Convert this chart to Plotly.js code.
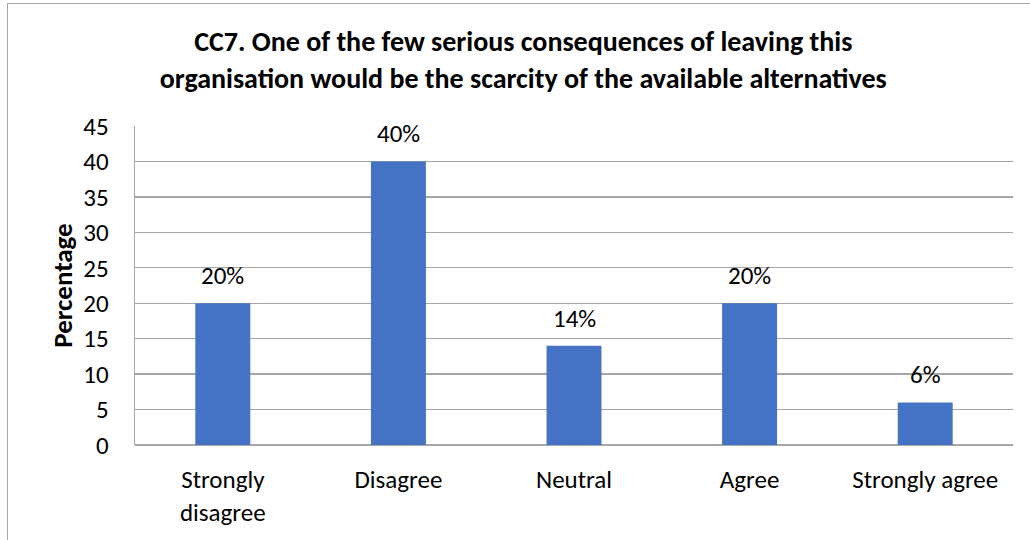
<!DOCTYPE html>
<html>
<head>
<meta charset="utf-8">
<script src="https://cdn.plot.ly/plotly-3.0.1.min.js"></script>
<style>
html,body{margin:0;padding:0;overflow:hidden;background:#fff;width:1030px;height:540px;}
#frame{position:absolute;left:7px;top:3px;width:1100px;height:600px;border:1.5px solid #a6a6a6;box-sizing:border-box;}
#chart{position:absolute;left:0;top:0;width:1030px;height:540px;}
</style>
</head>
<body>
<div id="frame"></div>
<div id="chart"></div>
<script>
const categories = ["Strongly<br>disagree", "Disagree", "Neutral", "Agree", "Strongly agree"];
const values = [20, 40, 14, 20, 6];
const valueLabels = ["20%", "40%", "14%", "20%", "6%"];
const yTicks = [0, 5, 10, 15, 20, 25, 30, 35, 40, 45];

const font = "Calibri, Carlito, Lato, 'Liberation Sans', sans-serif";

const trace = {
  type: 'bar',
  x: categories,
  y: values,
  marker: {color: '#4472C4'},
  width: 0.313,
  hoverinfo: 'none'
};

const annotations = categories.map((c, i) => ({
  x: c,
  y: values[i],
  xref: 'x',
  yref: 'y',
  text: valueLabels[i],
  showarrow: false,
  xanchor: 'center',
  yanchor: 'bottom',
  yshift: 10,
  font: {family: font, size: 25, color: '#000'}
}));

const layout = {
  width: 1030,
  height: 540,
  paper_bgcolor: 'rgba(0,0,0,0)',
  plot_bgcolor: 'rgba(0,0,0,0)',
  margin: {l: 134.5, r: 16.5, t: 126, b: 95, pad: 0},
  font: {family: font, size: 25, color: '#000'},
  title: {
    text: '<b>CC7. One of the few serious consequences of leaving this<br>organisation would be the scarcity of the available alternatives</b>',
    font: {family: font, size: 28, color: '#000'},
    xref: 'container',
    x: 0.508, xanchor: 'center',
    yref: 'container',
    y: 0.905, yanchor: 'top'
  },
  showlegend: false,
  annotations: annotations,
  xaxis: {
    type: 'category',
    showgrid: false,
    showline: false,
    zeroline: false,
    ticks: '',
    tickfont: {family: font, size: 25, color: '#000'},
    ticklabelstandoff: 17
  },
  yaxis: {
    range: [0, 45],
    tickvals: yTicks,
    ticktext: yTicks.map(String),
    showgrid: true,
    gridcolor: '#a6a6a6',
    gridwidth: 1.3,
    showline: true,
    linecolor: '#a6a6a6',
    linewidth: 1.3,
    zeroline: true,
    zerolinecolor: '#a6a6a6',
    zerolinewidth: 1.3,
    ticks: '',
    tickfont: {family: font, size: 25, color: '#000'},
    ticklabelstandoff: 20,
    title: {
      text: '<b>Percentage</b>',
      font: {family: font, size: 27, color: '#000'},
      standoff: 3
    },
    automargin: false
  }
};

Plotly.newPlot('chart', [trace], layout, {staticPlot: true, displayModeBar: false});
</script>
</body>
</html>
